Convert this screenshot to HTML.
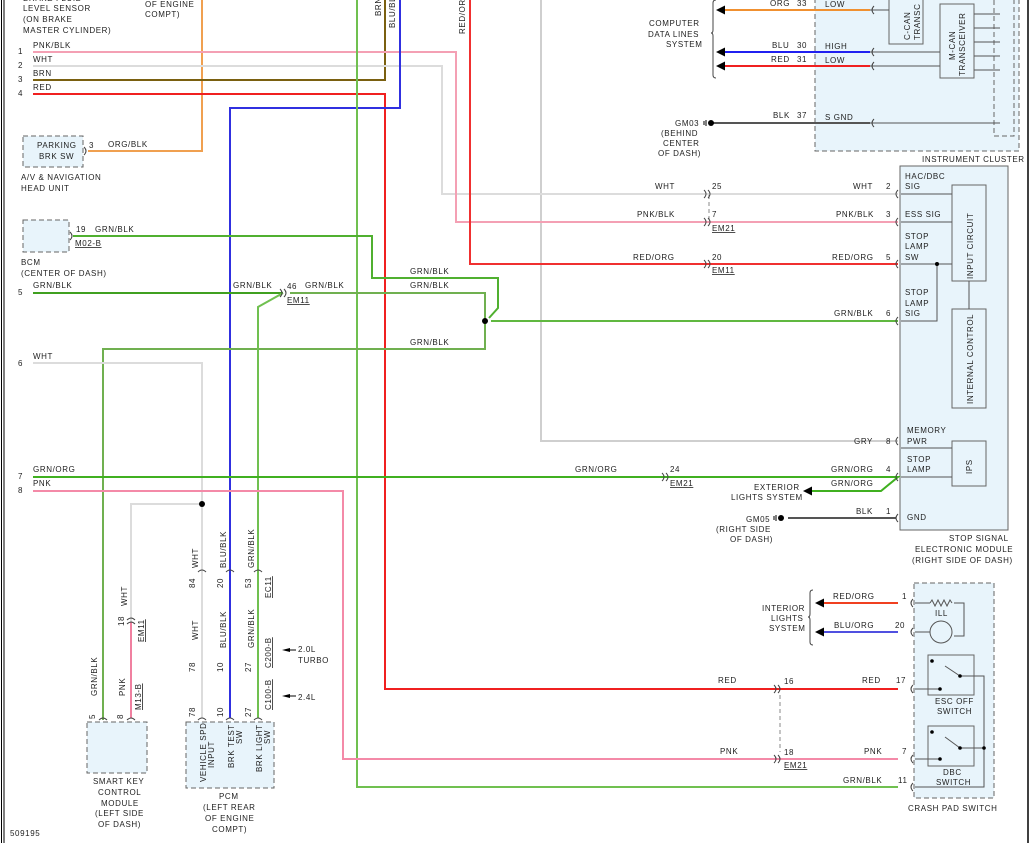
<!DOCTYPE html>
<html><head><meta charset="utf-8"><style>
html,body{margin:0;padding:0;background:#fff;}
svg{display:block;}
text{font-family:"Liberation Sans",sans-serif;font-size:8px;fill:#222;letter-spacing:0.6px;}
</style></head><body>
<svg width="1033" height="843" viewBox="0 0 1033 843" xmlns="http://www.w3.org/2000/svg">
<rect width="1033" height="843" fill="#fff"/>
<line x1="1.5" y1="0" x2="1.5" y2="843" stroke="#000" stroke-width="1"/>
<line x1="4" y1="0" x2="4" y2="843" stroke="#000" stroke-width="1"/>
<line x1="1028" y1="0" x2="1028" y2="843" stroke="#000" stroke-width="1.5"/>

<g fill="#e8f4fb" stroke="#666" stroke-width="1">
<rect x="815" y="-5" width="204" height="156" stroke-dasharray="5,3"/>
<rect x="994" y="-5" width="20" height="141" stroke-dasharray="5,3"/>
<rect x="889" y="-5" width="34" height="49"/>
<rect x="940" y="4" width="34" height="74"/>
<rect x="900" y="166" width="108" height="364"/>
<rect x="952" y="185" width="34" height="96"/>
<rect x="952" y="309" width="34" height="99"/>
<rect x="952" y="441" width="34" height="45"/>
<rect x="914" y="583" width="80" height="215" stroke-dasharray="5,3"/>
<rect x="928" y="655" width="46" height="40"/>
<rect x="928" y="726" width="46" height="40"/>
<rect x="87" y="722" width="60" height="51" stroke-dasharray="5,3"/>
<rect x="186" y="722" width="88" height="66" stroke-dasharray="5,3"/>
<rect x="23" y="136" width="60" height="31" stroke-dasharray="5,3"/>
<rect x="23" y="220" width="46" height="32" stroke-dasharray="5,3"/>
</g>
<g stroke="#555" stroke-width="1" fill="none">
<path d="M816 10H889M816 52H940M816 66H940M816 123H1000M974 14H1000M974 28H1000M974 42H1000M974 56H1000M974 70H1000"/>
<path d="M901 194H952M901 222H952M901 264H952M937 264V321H901M969 281V309M901 448H952M901 477H952"/>
<path d="M915 603H930M954 603H964V636H954M915 632H930M915 689H940M945 666L960 676M960 676H984V787H915M915 759H940M945 737L960 748M960 748H984"/>
</g>
<circle cx="941" cy="632" r="11" fill="none" stroke="#555"/>
<path d="M930 603l2-3 3 6 3-6 3 6 3-6 3 6 3-6 2 3" fill="none" stroke="#555"/>
<g fill="#000"><circle cx="937" cy="264" r="2"/><circle cx="932" cy="661" r="1.8"/><circle cx="960" cy="676" r="1.8"/><circle cx="940" cy="689" r="1.8"/><circle cx="932" cy="732" r="1.8"/><circle cx="960" cy="748" r="1.8"/><circle cx="940" cy="759" r="1.8"/><circle cx="984" cy="748" r="1.8"/></g>

<g fill="none" stroke-width="2">
<path d="M202 0V151H88" stroke="#f0a050"/>
<path d="M33 80H385V0" stroke="#7a6010"/>
<path d="M541 0V441H898" stroke="#cfcfcf"/>
<path d="M33 66H442V194H898" stroke="#dcdcdc"/>
<path d="M33 52H456V222H898" stroke="#f4a0b4"/>
<path d="M470 0V264H898" stroke="#f03030"/>
<path d="M33 94H385V689H898" stroke="#f02020"/>
<path d="M400 0V108H230V718" stroke="#3030e0"/>
<path d="M357 0V787H898" stroke="#70c050"/>
<path d="M73 236H372V278H498V308L489 318" stroke="#50b030"/>
<path d="M491 321H898" stroke="#60b840"/>
<path d="M33 293H283" stroke="#40a020"/>
<path d="M290 293H485V349H103V720" stroke="#70b050"/>
<path d="M283 293L258 307V718" stroke="#70c050"/>
<path d="M33 363H202V718" stroke="#dcdcdc"/>
<path d="M202 504H131V622" stroke="#dcdcdc"/>
<path d="M131 622V718" stroke="#f080a0"/>
<path d="M33 477H898L881 491H812" stroke="#40b020"/>
<path d="M33 491H343V759H898" stroke="#f48aa8"/>
<path d="M722 10H870" stroke="#f09030"/>
<path d="M722 52H870" stroke="#2020f0"/>
<path d="M722 66H870" stroke="#f02020"/>
<path d="M710 123H870" stroke="#555"/>
<path d="M788 518H896" stroke="#555"/>
<path d="M822 603H898" stroke="#f04020"/>
<path d="M822 632H898" stroke="#5050e0"/>
</g>
<line x1="780" y1="695" x2="780" y2="752" stroke="#888" stroke-dasharray="4,3"/>
<line x1="709" y1="195" x2="709" y2="222" stroke="#888" stroke-dasharray="4,3"/>
<g fill="#000"><circle cx="485" cy="321" r="3"/><circle cx="202" cy="504" r="3"/><circle cx="711" cy="123" r="3"/><circle cx="781" cy="518" r="3"/>
<path d="M716 10l9-4.5v9z M716 52l9-4.5v9z M716 66l9-4.5v9z M803 491l9-4.5v9z M815 603l9-4.5v9z M815 632l9-4.5v9z"/>
<path d="M282 650l8-2v4z M282 696l8-2v4z"/></g>
<path d="M290 650H296M290 696H296" stroke="#000"/>
<path d="M706 120v6M704 121v4" stroke="#000"/>
<path d="M776 515v6M774 516v4" stroke="#000"/>
<!-- braces -->
<g fill="none" stroke="#444" stroke-width="1">
<path d="M716 0q-3 0-3 3V30q0 3-2 3q2 0 2 3V75q0 3 3 3"/>
<path d="M813 590q-3 0-3 3V614q0 3-2 3q2 0 2 3V642q0 3 3 3"/>
</g>

<g fill="none" stroke="#444" stroke-width="1">
<path d="M874 6q-4 4 0 8M874 48q-4 4 0 8M874 62q-4 4 0 8M874 119q-4 4 0 8"/>
<path d="M898 190q-4 4 0 8M898 218q-4 4 0 8M898 260q-4 4 0 8M898 317q-4 4 0 8M898 437q-4 4 0 8M898 473q-4 4 0 8M898 514q-4 4 0 8"/>
<path d="M913 599q-4 4 0 8M913 628q-4 4 0 8M913 685q-4 4 0 8M913 755q-4 4 0 8M913 783q-4 4 0 8"/>
<path d="M704 190q4 4 0 8M708 190q4 4 0 8M704 218q4 4 0 8M708 218q4 4 0 8M704 260q4 4 0 8M708 260q4 4 0 8M662 473q4 4 0 8M666 473q4 4 0 8"/>
<path d="M774 685q4 4 0 8M778 685q4 4 0 8M774 755q4 4 0 8M778 755q4 4 0 8M280 289q4 4 0 8M284 289q4 4 0 8"/>
<path d="M84 147q4 4 0 8M70 232q4 4 0 8"/>
<path d="M198 572q4 -4 8 0M226 572q4 -4 8 0M254 572q4 -4 8 0M127 620q4 -4 8 0M127 624q4 -4 8 0"/>
<path d="M99 720q4 -4 8 0M127 720q4 -4 8 0M198 720q4 -4 8 0M226 720q4 -4 8 0M254 720q4 -4 8 0"/>
</g>

<text x="23" y="1">BRAKE FLUID</text>
<text x="23" y="11">LEVEL SENSOR</text>
<text x="23" y="22">(ON BRAKE</text>
<text x="23" y="33">MASTER CYLINDER)</text>
<text x="145" y="7">OF ENGINE</text>
<text x="145" y="17">COMPT)</text>
<text x="18" y="54">1</text><text x="33" y="48">PNK/BLK</text>
<text x="18" y="68">2</text><text x="33" y="62">WHT</text>
<text x="18" y="82">3</text><text x="33" y="76">BRN</text>
<text x="18" y="96">4</text><text x="33" y="90">RED</text>
<text x="37" y="148">PARKING</text><text x="39" y="159">BRK SW</text>
<text x="89" y="148">3</text><text x="108" y="147">ORG/BLK</text>
<text x="21" y="180">A/V &amp; NAVIGATION</text><text x="21" y="191">HEAD UNIT</text>
<text x="76" y="232">19</text><text x="95" y="232">GRN/BLK</text>
<text x="75" y="246" text-decoration="underline">M02-B</text>
<text x="21" y="265">BCM</text><text x="21" y="276">(CENTER OF DASH)</text>
<text x="18" y="295">5</text><text x="33" y="288">GRN/BLK</text>
<text x="233" y="288">GRN/BLK</text><text x="287" y="289">46</text><text x="305" y="288">GRN/BLK</text>
<text x="287" y="303" text-decoration="underline">EM11</text>
<text x="410" y="274">GRN/BLK</text><text x="410" y="288">GRN/BLK</text><text x="410" y="345">GRN/BLK</text>
<text x="18" y="366">6</text><text x="33" y="359">WHT</text>
<text x="18" y="479">7</text><text x="33" y="472">GRN/ORG</text>
<text x="18" y="493">8</text><text x="33" y="486">PNK</text>
<text x="575" y="472">GRN/ORG</text><text x="670" y="472">24</text>
<text x="670" y="486" text-decoration="underline">EM21</text>
<text x="10" y="836">509195</text>

<g>
<text transform="translate(381,16) rotate(-90)">BRN</text>
<text transform="translate(395,28) rotate(-90)">BLU/BLK</text>
<text transform="translate(465,34) rotate(-90)">RED/ORG</text>
<text transform="translate(198,568) rotate(-90)">WHT</text>
<text transform="translate(226,568) rotate(-90)">BLU/BLK</text>
<text transform="translate(254,568) rotate(-90)">GRN/BLK</text>
<text transform="translate(195,588) rotate(-90)">84</text>
<text transform="translate(223,588) rotate(-90)">20</text>
<text transform="translate(251,588) rotate(-90)">53</text>
<text transform="translate(271,598) rotate(-90)" text-decoration="underline">EC11</text>
<text transform="translate(198,640) rotate(-90)">WHT</text>
<text transform="translate(226,648) rotate(-90)">BLU/BLK</text>
<text transform="translate(254,648) rotate(-90)">GRN/BLK</text>
<text transform="translate(271,668) rotate(-90)" text-decoration="underline">C200-B</text>
<text transform="translate(271,710) rotate(-90)" text-decoration="underline">C100-B</text>
<text transform="translate(195,672) rotate(-90)">78</text>
<text transform="translate(223,672) rotate(-90)">10</text>
<text transform="translate(251,672) rotate(-90)">27</text>
<text transform="translate(195,717) rotate(-90)">78</text>
<text transform="translate(223,717) rotate(-90)">10</text>
<text transform="translate(251,717) rotate(-90)">27</text>
<text transform="translate(206,782) rotate(-90)">VEHICLE SPD</text>
<text transform="translate(214,768) rotate(-90)">INPUT</text>
<text transform="translate(234,768) rotate(-90)">BRK TEST</text>
<text transform="translate(242,744) rotate(-90)">SW</text>
<text transform="translate(262,772) rotate(-90)">BRK LIGHT</text>
<text transform="translate(270,744) rotate(-90)">SW</text>
<text transform="translate(127,606) rotate(-90)">WHT</text>
<text transform="translate(124,626) rotate(-90)">18</text>
<text transform="translate(144,642) rotate(-90)" text-decoration="underline">EM11</text>
<text transform="translate(97,696) rotate(-90)">GRN/BLK</text>
<text transform="translate(125,696) rotate(-90)">PNK</text>
<text transform="translate(141,710) rotate(-90)" text-decoration="underline">M13-B</text>
<text transform="translate(95,719) rotate(-90)">5</text>
<text transform="translate(123,719) rotate(-90)">8</text>
<text transform="translate(910,40) rotate(-90)">C-CAN</text>
<text transform="translate(920,40) rotate(-90)">TRANSC</text>
<text transform="translate(955,60) rotate(-90)">M-CAN</text>
<text transform="translate(965,76) rotate(-90)">TRANSCEIVER</text>
<text transform="translate(973,279) rotate(-90)">INPUT CIRCUIT</text>
<text transform="translate(973,404) rotate(-90)">INTERNAL CONTROL</text>
<text transform="translate(972,474) rotate(-90)">IPS</text>
</g>
<text x="298" y="652">2.0L</text><text x="298" y="663">TURBO</text>
<text x="298" y="700">2.4L</text>
<text x="93" y="784">SMART KEY</text><text x="98" y="795">CONTROL</text><text x="101" y="806">MODULE</text><text x="95" y="816">(LEFT SIDE</text><text x="98" y="827">OF DASH)</text>
<text x="219" y="799">PCM</text><text x="203" y="810">(LEFT REAR</text><text x="205" y="821">OF ENGINE</text><text x="212" y="832">COMPT)</text>

<text x="649" y="26">COMPUTER</text><text x="648" y="37">DATA LINES</text><text x="666" y="47">SYSTEM</text>
<text x="770" y="6">ORG</text><text x="797" y="6">33</text>
<text x="772" y="48">BLU</text><text x="797" y="48">30</text>
<text x="771" y="62">RED</text><text x="797" y="62">31</text>
<text x="825" y="7">LOW</text><text x="825" y="49">HIGH</text><text x="825" y="63">LOW</text>
<text x="773" y="118">BLK</text><text x="797" y="118">37</text><text x="825" y="120">S GND</text>
<text x="675" y="126">GM03</text><text x="661" y="136">(BEHIND</text><text x="663" y="146">CENTER</text><text x="658" y="156">OF DASH)</text>
<text x="922" y="162">INSTRUMENT CLUSTER</text>
<text x="655" y="189">WHT</text><text x="712" y="189">25</text><text x="853" y="189">WHT</text><text x="886" y="189">2</text>
<text x="637" y="217">PNK/BLK</text><text x="712" y="217">7</text><text x="836" y="217">PNK/BLK</text><text x="886" y="217">3</text>
<text x="712" y="231" text-decoration="underline">EM21</text>
<text x="633" y="260">RED/ORG</text><text x="712" y="260">20</text><text x="832" y="260">RED/ORG</text><text x="886" y="260">5</text>
<text x="712" y="273" text-decoration="underline">EM11</text>
<text x="834" y="316">GRN/BLK</text><text x="886" y="316">6</text>
<text x="905" y="179">HAC/DBC</text><text x="905" y="189">SIG</text>
<text x="905" y="217">ESS SIG</text>
<text x="905" y="239">STOP</text><text x="905" y="249">LAMP</text><text x="905" y="260">SW</text>
<text x="905" y="295">STOP</text><text x="905" y="306">LAMP</text><text x="905" y="316">SIG</text>
<text x="854" y="444">GRY</text><text x="886" y="444">8</text>
<text x="907" y="433">MEMORY</text><text x="907" y="444">PWR</text>
<text x="907" y="462">STOP</text><text x="907" y="472">LAMP</text>
<text x="831" y="472">GRN/ORG</text><text x="886" y="472">4</text>
<text x="831" y="486">GRN/ORG</text>
<text x="754" y="490">EXTERIOR</text><text x="731" y="500">LIGHTS SYSTEM</text>
<text x="856" y="514">BLK</text><text x="886" y="514">1</text><text x="907" y="520">GND</text>
<text x="746" y="522">GM05</text><text x="716" y="532">(RIGHT SIDE</text><text x="730" y="542">OF DASH)</text>
<text x="949" y="541">STOP SIGNAL</text><text x="915" y="552">ELECTRONIC MODULE</text><text x="912" y="563">(RIGHT SIDE OF DASH)</text>
<text x="762" y="611">INTERIOR</text><text x="771" y="621">LIGHTS</text><text x="769" y="631">SYSTEM</text>
<text x="833" y="599">RED/ORG</text><text x="902" y="599">1</text>
<text x="834" y="628">BLU/ORG</text><text x="895" y="628">20</text>
<text x="935" y="616">ILL</text>
<text x="718" y="683">RED</text><text x="784" y="684">16</text><text x="862" y="683">RED</text><text x="896" y="683">17</text>
<text x="720" y="754">PNK</text><text x="784" y="755">18</text><text x="864" y="754">PNK</text><text x="902" y="754">7</text>
<text x="784" y="768" text-decoration="underline">EM21</text>
<text x="843" y="783">GRN/BLK</text><text x="898" y="783">11</text>
<text x="935" y="704">ESC OFF</text><text x="937" y="714">SWITCH</text>
<text x="943" y="775">DBC</text><text x="936" y="785">SWITCH</text>
<text x="908" y="811">CRASH PAD SWITCH</text>
</svg>
</body></html>
